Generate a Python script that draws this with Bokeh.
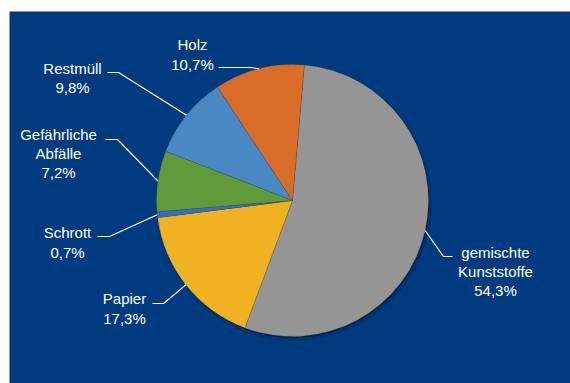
import math
from bokeh.plotting import figure
from bokeh.models import ColumnDataSource, Range1d
from bokeh.core.properties import value
from bokeh.embed import file_html
from bokeh.resources import INLINE

# ---- data ----
categories = ["gemischte\nKunststoffe", "Papier", "Schrott", "Gefährliche\nAbfälle", "Restmüll", "Holz"]
shares = [54.3, 17.3, 0.7, 7.2, 9.8, 10.7]
colors = ["#959595", "#efb322", "#3a6cc0", "#5f9b3b", "#4a87c5", "#d96c27"]

# ---- layout (frame pixel coordinates, y up) ----
W, H = 570, 383
FW, FH = 561, 372
CX, CY, R = 283, 183, 136
START = 5.0  # degrees clockwise from 12 o'clock

def fx(xp):
    return xp - 9

def fy(yp):
    return 383 - yp

# label block centres (page coords) and leader start / elbow (page coords)
label_pos = [(495, 271), (124, 308), (67, 242), (58, 153), (72, 77.5), (192, 54)]
leader_start = [(452, 256), (152, 303), (97, 236), (105, 139), (107, 72), (218, 67)]
leader_elbow = [(443, 256), (163, 303), (109, 236), (117, 139), (118, 72), (250, 67)]

total = sum(shares)
starts, ends, mids = [], [], []
acc = START
for s in shares:
    a0 = acc
    a1 = acc + 360.0 * s / total
    starts.append(math.radians(90 - a0))
    ends.append(math.radians(90 - a1))
    mids.append((a0 + a1) / 2)
    acc = a1

labels = [f"{c}\n{str(v).replace('.', ',')}%" for c, v in zip(categories, shares)]

p = figure(width=W, height=H, output_backend="svg", toolbar_location=None,
           x_range=Range1d(0, FW), y_range=Range1d(0, FH),
           min_border_left=9, min_border_top=11, min_border_right=0, min_border_bottom=0)
p.background_fill_color = "#003b80"
p.border_fill_color = "white"
p.outline_line_color = None
p.axis.visible = False
p.grid.visible = False

# shadow
p.circle(x=[CX + 1.5], y=[CY - 2.5], radius=R + 2, fill_color="#001a3d", fill_alpha=0.25, line_color=None)
p.circle(x=[CX + 1], y=[CY - 1.5], radius=R, fill_color="#001a3d", fill_alpha=0.6, line_color=None)

src = ColumnDataSource(dict(start=starts, end=ends, color=colors))
p.wedge(x=CX, y=CY, radius=R, start_angle="start", end_angle="end", direction="clock",
        fill_color="color", line_color="#404040", line_alpha=0.35, line_width=0.6, source=src)

# leader lines
xs, ys = [], []
for m, st, el in zip(mids, leader_start, leader_elbow):
    ex = CX + R * math.sin(math.radians(m))
    ey = CY + R * math.cos(math.radians(m))
    xs.append([fx(st[0]), fx(el[0]), ex])
    ys.append([fy(st[1]), fy(el[1]), ey])
p.multi_line(xs=xs, ys=ys, line_color="white", line_width=1.1)

lsrc = ColumnDataSource(dict(x=[fx(a) for a, b in label_pos], y=[fy(b) for a, b in label_pos], t=labels))
p.text(x="x", y="y", text="t", source=lsrc, text_color="white", text_align="center",
       text_baseline="middle", text_font=value("Liberation Sans"), text_font_size="15px",
       text_line_height=1.12)

open("out.html", "w").write(file_html(p, INLINE))
